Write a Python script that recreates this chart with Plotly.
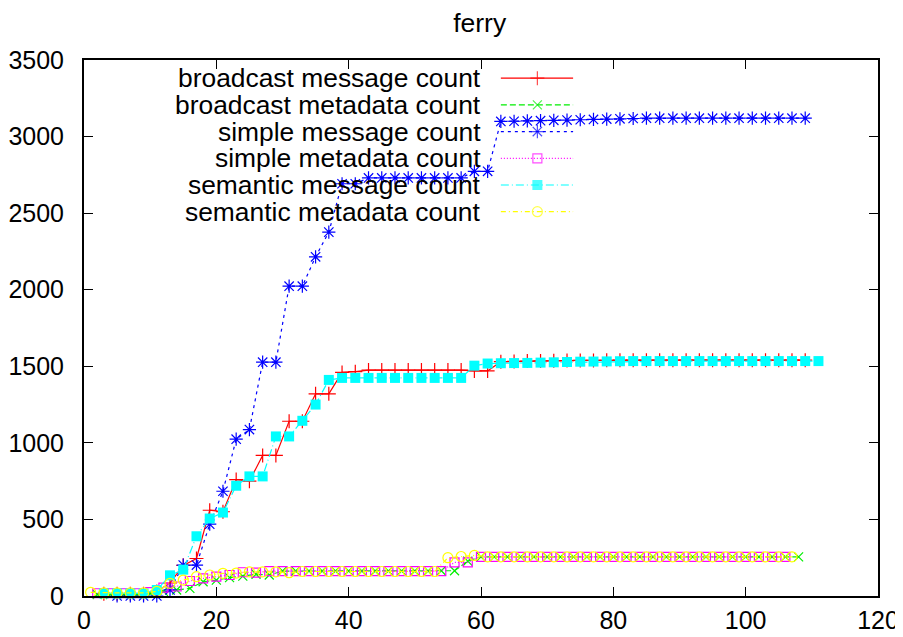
import plotly.graph_objects as go

title_text = "ferry"
x_ticks = [0, 20, 40, 60, 80, 100, 120]
y_ticks = [0, 500, 1000, 1500, 2000, 2500, 3000, 3500]

names = ["broadcast message count", "broadcast metadata count", "simple message count",
         "simple metadata count", "semantic message count", "semantic metadata count"]

bcast_msg_x = list(range(3, 110, 2))
bcast_msg_y = [15, 15, 15, 15, 30, 85, 200, 245, 560, 550,
               760, 750, 918, 918, 1141, 1141, 1320, 1320, 1460, 1465,
               1475, 1475, 1475, 1475, 1475, 1475, 1475, 1475, 1470, 1470,
               1530, 1532, 1534, 1535, 1536, 1537, 1538, 1538, 1539, 1540,
               1540, 1540, 1540, 1540, 1540, 1540, 1540, 1540, 1540, 1540,
               1540, 1540, 1540, 1540]

bcast_meta_x = list(range(2, 109, 2))
bcast_meta_y = [10, 10, 10, 10, 15, 30, 39, 50, 93, 104,
                120, 130, 142, 137, 163, 163, 163, 163, 163, 163,
                163, 163, 163, 163, 163, 163, 165, 165, 228, 256,
                256, 256, 256, 256, 256, 256, 256, 256, 256, 256,
                256, 256, 256, 256, 256, 256, 256, 256, 256, 256,
                256, 256, 256, 256]

simple_msg_x = list(range(5, 110, 2))
simple_msg_y = [0, 0, 0, 0, 40, 202, 202, 469, 684, 1024,
                1087, 1527, 1527, 2023, 2023, 2215, 2376, 2692, 2692, 2730,
                2730, 2730, 2730, 2730, 2730, 2730, 2730, 2773, 2773, 3099,
                3100, 3102, 3104, 3106, 3108, 3110, 3112, 3114, 3116, 3118,
                3120, 3120, 3120, 3120, 3120, 3120, 3120, 3120, 3120, 3120,
                3120, 3120, 3120]

simple_meta_x = list(range(2, 107, 2))
simple_meta_y = [18, 18, 18, 18, 25, 55, 62, 98, 115, 126,
                 137, 155, 152, 163, 163, 163, 163, 163, 163, 163,
                 163, 163, 163, 163, 163, 163, 163, 219, 219, 256,
                 256, 256, 256, 256, 256, 256, 256, 256, 256, 256,
                 256, 256, 256, 256, 256, 256, 256, 256, 256, 256,
                 256, 256, 256]

sem_msg_x = list(range(3, 112, 2))
sem_msg_y = [17, 17, 17, 17, 39, 135, 172, 390, 506, 545,
             720, 781, 781, 1042, 1042, 1144, 1250, 1411, 1424, 1424,
             1424, 1424, 1424, 1424, 1424, 1424, 1424, 1424, 1504, 1518,
             1520, 1521, 1522, 1524, 1526, 1528, 1530, 1531, 1532, 1533,
             1534, 1534, 1534, 1534, 1534, 1534, 1534, 1534, 1534, 1534,
             1534, 1534, 1534, 1534, 1534]

sem_meta_x = list(range(1, 108, 2))
sem_meta_y = [24, 20, 20, 20, 20, 30, 83, 104, 126, 137,
              148, 150, 158, 158, 158, 152, 160, 160, 160, 160,
              160, 160, 160, 160, 160, 160, 160, 250, 258, 265,
              256, 256, 256, 256, 256, 256, 256, 256, 256, 256,
              256, 256, 256, 256, 256, 256, 256, 256, 256, 256,
              256, 256, 256, 256]

series_x = [bcast_msg_x, bcast_meta_x, simple_msg_x, simple_meta_x, sem_msg_x, sem_meta_x]
series_y = [bcast_msg_y, bcast_meta_y, simple_msg_y, simple_meta_y, sem_msg_y, sem_meta_y]

colors = ["#ff0000", "#00ee00", "#0000ff", "#ff00ff", "#00ffff", "#ffff00"]
dashes = ["solid", "6px,3px", "3px,4px", "1px,2px", "8px,3px,1px,3px", "5px,3px,1px,3px"]
symbols = ["cross-thin-open", "x-thin-open", "asterisk-open", "square-open", "square", "circle-open"]
sizes = [10, 9, 11, 9, 10, 10]

FONT = "Liberation Sans, Arial, Helvetica, sans-serif"

fig = go.Figure()

def marker_for(i, size):
    if symbols[i] == "square":
        return dict(symbol="square", size=size, color=colors[i], line=dict(width=0))
    return dict(symbol=symbols[i], size=size, color=colors[i],
                line=dict(color=colors[i], width=1.2))

for i in range(6):
    fig.add_trace(go.Scatter(
        x=series_x[i], y=series_y[i], mode="lines+markers", name=names[i],
        line=dict(color=colors[i], width=1.2, dash=dashes[i]),
        marker=marker_for(i, sizes[i]), cliponaxis=False, showlegend=False,
        xaxis="x", yaxis="y"))

# custom gnuplot-style key (text left, sample right)
key_text_x = 0.503
key_line_x0, key_mid, key_line_x1 = 0.525, 0.571, 0.616
key_top = 0.966
key_step = 0.0498
annotations = []
for i in range(6):
    ky = key_top - i * key_step
    annotations.append(dict(x=key_text_x, y=ky, xref="paper", yref="paper", text=names[i],
                            showarrow=False, xanchor="right", yanchor="middle",
                            font=dict(family=FONT, size=26.4, color="black")))
    m = marker_for(i, [0, sizes[i], 0])
    fig.add_trace(go.Scatter(
        x=[key_line_x0, key_mid, key_line_x1], y=[ky, ky, ky], mode="lines+markers",
        line=dict(color=colors[i], width=1.2, dash=dashes[i]), marker=m,
        cliponaxis=False, showlegend=False, xaxis="x2", yaxis="y2", hoverinfo="skip"))

axis_common = dict(showline=True, linecolor="black", linewidth=2, mirror="ticks",
                   ticks="inside", ticklen=9, tickwidth=1.2, tickcolor="black",
                   showgrid=False, zeroline=False, automargin=False,
                   tickfont=dict(family=FONT, size=25, color="black"))

# the page body adds an 8px offset; size the figure so the plot area lands
# where the reference has it (x 84..878, y 60..596 in the 903x637 window)
fig.update_layout(
    width=895, height=629,
    margin=dict(l=76, r=25, t=52, b=41),
    paper_bgcolor="white", plot_bgcolor="white",
    title=dict(text=title_text, x=0.527, xanchor="center", y=0.976, yanchor="middle",
               font=dict(family=FONT, size=26.5, color="black")),
    xaxis=dict(range=[0, 120], tickvals=x_ticks, ticklabelstandoff=1, **axis_common),
    yaxis=dict(range=[0, 3500], tickvals=y_ticks, ticklabelstandoff=13, **axis_common),
    xaxis2=dict(range=[0, 1], overlaying="x", visible=False, fixedrange=True),
    yaxis2=dict(range=[0, 1], overlaying="y", visible=False, fixedrange=True),
    annotations=annotations,
    showlegend=False,
)

fig.write_html("out.html")
